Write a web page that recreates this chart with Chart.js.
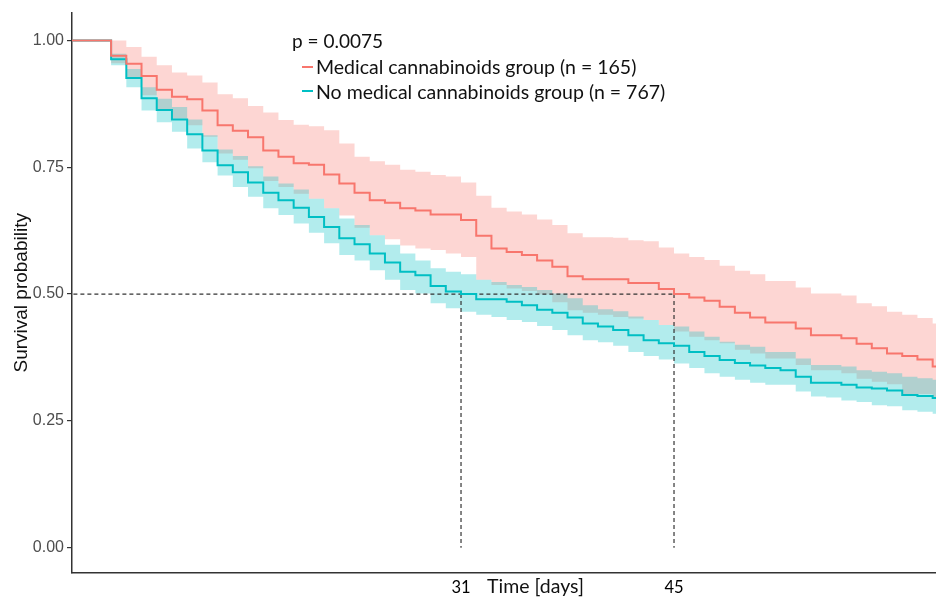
<!DOCTYPE html>
<html>
<head>
<meta charset="utf-8">
<script src="https://cdn.jsdelivr.net/npm/chart.js@4.4.1/dist/chart.umd.min.js"></script>
<style>
    body { margin: 0; background: #fff; }
    #wrap { position: relative; width: 936px; height: 598px; }
    .txt { position: absolute; font-family: Lato, sans-serif; color: #111; white-space: nowrap; line-height: 24px; }
    .key { position: absolute; width: 11px; height: 0; border-top: 2px solid; }
</style>
</head>
<body>
<div id="wrap">
    <canvas id="kmChart" width="936" height="598"></canvas>
    <div class="txt" style="left:292px; top:29px; font-size:19px;">p = 0.0075</div>
    <div class="key" style="left:302px; top:66px; border-color:#F8766D;"></div>
    <div class="txt" style="left:316px; top:55px; font-size:19.5px;">Medical cannabinoids group (n = 165)</div>
    <div class="key" style="left:302px; top:90px; border-color:#00BFC4;"></div>
    <div class="txt" style="left:316px; top:80px; font-size:19.5px;">No medical cannabinoids group (n = 767)</div>
    <div class="txt" style="left:487px; top:574px; font-size:19.5px;">Time [days]</div>
</div>
<script>
// time points (days), value holds until next time
times = [0, 8, 9, 10, 11, 12, 13, 14, 15, 16, 17, 18, 19, 20, 21, 22, 23, 24, 25, 26, 27, 28,
    29, 30, 31, 32, 33, 34, 35, 36, 37, 38, 39, 40, 41, 42, 43, 44, 45, 46, 47, 48, 49, 50,
    51, 52, 53, 54, 55, 56, 57, 58, 59, 60, 61, 62]

// medical cannabinoids group
medSurv = [1, 0.970, 0.954, 0.930, 0.903, 0.889, 0.884, 0.862, 0.833, 0.822, 0.809, 0.783, 0.771,
    0.758, 0.755, 0.736, 0.718, 0.700, 0.685, 0.680, 0.669, 0.665, 0.657, 0.657, 0.646, 0.615,
    0.590, 0.583, 0.577, 0.566, 0.554, 0.535, 0.529, 0.529, 0.529, 0.522, 0.522, 0.510, 0.500,
    0.493, 0.487, 0.475, 0.463, 0.454, 0.444, 0.444, 0.432, 0.419, 0.419, 0.413, 0.402, 0.393,
    0.383, 0.378, 0.371, 0.357]
medUpper = [1, 1.000, 0.987, 0.968, 0.951, 0.937, 0.931, 0.917, 0.894, 0.886, 0.871, 0.858, 0.843,
    0.834, 0.831, 0.823, 0.797, 0.771, 0.762, 0.755, 0.745, 0.741, 0.735, 0.732, 0.720, 0.694,
    0.670, 0.663, 0.657, 0.647, 0.636, 0.620, 0.612, 0.612, 0.611, 0.606, 0.604, 0.592, 0.580,
    0.573, 0.567, 0.556, 0.546, 0.539, 0.526, 0.526, 0.513, 0.501, 0.501, 0.497, 0.482, 0.476,
    0.465, 0.459, 0.453, 0.442]
medLower = [1, 0.955, 0.928, 0.892, 0.865, 0.846, 0.833, 0.810, 0.777, 0.765, 0.748, 0.723, 0.711,
    0.698, 0.688, 0.669, 0.655, 0.631, 0.616, 0.608, 0.596, 0.590, 0.587, 0.580, 0.573, 0.528,
    0.518, 0.511, 0.506, 0.499, 0.484, 0.468, 0.463, 0.459, 0.455, 0.452, 0.449, 0.439, 0.426,
    0.416, 0.409, 0.403, 0.390, 0.383, 0.373, 0.373, 0.360, 0.350, 0.350, 0.344, 0.333, 0.327,
    0.322, 0.303, 0.303, 0.297]

// no medical cannabinoids group
noSurv = [1, 0.963, 0.926, 0.886, 0.863, 0.844, 0.815, 0.783, 0.754, 0.740, 0.720, 0.700, 0.685,
    0.670, 0.652, 0.632, 0.610, 0.598, 0.580, 0.562, 0.544, 0.537, 0.516, 0.505, 0.500, 0.490,
    0.490, 0.485, 0.478, 0.469, 0.463, 0.454, 0.442, 0.436, 0.429, 0.419, 0.409, 0.403, 0.398,
    0.386, 0.378, 0.370, 0.364, 0.359, 0.354, 0.350, 0.337, 0.325, 0.325, 0.321, 0.316, 0.314,
    0.310, 0.301, 0.299, 0.295]
noUpper = [1, 0.974, 0.944, 0.908, 0.885, 0.869, 0.844, 0.813, 0.785, 0.772, 0.752, 0.732, 0.718,
    0.706, 0.688, 0.669, 0.649, 0.636, 0.616, 0.597, 0.580, 0.566, 0.551, 0.544, 0.539, 0.528,
    0.524, 0.518, 0.514, 0.508, 0.501, 0.492, 0.478, 0.470, 0.466, 0.456, 0.449, 0.439, 0.436,
    0.426, 0.416, 0.406, 0.400, 0.396, 0.386, 0.386, 0.373, 0.360, 0.360, 0.357, 0.350, 0.347,
    0.344, 0.337, 0.334, 0.331]
noLower = [1, 0.951, 0.908, 0.862, 0.839, 0.820, 0.787, 0.760, 0.734, 0.711, 0.692, 0.669, 0.656,
    0.639, 0.621, 0.600, 0.577, 0.566, 0.547, 0.528, 0.508, 0.501, 0.482, 0.472, 0.465, 0.459,
    0.455, 0.449, 0.445, 0.437, 0.429, 0.419, 0.409, 0.405, 0.398, 0.386, 0.378, 0.371, 0.363,
    0.354, 0.344, 0.337, 0.331, 0.325, 0.321, 0.321, 0.308, 0.298, 0.296, 0.290, 0.287, 0.281,
    0.279, 0.271, 0.268, 0.264]

// median survival times (the two labelled x ticks)
medianTimes = [31, 45]
medianLevel = 0.5
yTicks = [0, 0.25, 0.5, 0.75, 1]

const xMin = 5.43, xMax = 62.22;

function toPoints(vals) {
    const pts = times.map((t, i) => ({ x: t, y: vals[i] }));
    pts.push({ x: xMax, y: vals[vals.length - 1] }); // hold last step to the edge
    return pts;
}

function stepLine(vals, color) {
    return {
        data: toPoints(vals),
        borderColor: color,
        borderWidth: 2,
        pointRadius: 0,
        stepped: true,
        fill: false
    };
}

function band(vals, fillColor, fillTo) {
    return {
        data: toPoints(vals),
        borderWidth: 0,
        borderColor: 'transparent',
        backgroundColor: fillColor,
        pointRadius: 0,
        stepped: true,
        fill: fillTo
    };
}

function dashed(pts) {
    return {
        data: pts,
        borderColor: '#333',
        borderWidth: 1.2,
        borderDash: [4, 3],
        pointRadius: 0,
        fill: false
    };
}

document.addEventListener('DOMContentLoaded', function () {
    const ctx = document.getElementById('kmChart');

    const datasets = [
        stepLine(medSurv, '#F8766D'),
        stepLine(noSurv, '#00BFC4'),
        dashed([{ x: times[0], y: medianLevel }, { x: Math.max(...medianTimes), y: medianLevel }])
    ];
    medianTimes.forEach(t => {
        datasets.push(dashed([{ x: t, y: medianLevel }, { x: t, y: 0 }]));
    });
    // teal ribbon listed first so it is painted over the red one
    datasets.push(band(noUpper, 'rgba(0, 191, 196, 0.3)', '+1'));
    datasets.push(band(noLower, 'transparent', false));
    datasets.push(band(medUpper, 'rgba(248, 118, 109, 0.3)', '+1'));
    datasets.push(band(medLower, 'transparent', false));

    new Chart(ctx, {
        type: 'line',
        data: { datasets: datasets },
        options: {
            responsive: false,
            animation: false,
            layout: { padding: { top: 12, right: 0, left: 0, bottom: 0 } },
            plugins: {
                legend: { display: false },
                tooltip: { enabled: false }
            },
            scales: {
                x: {
                    type: 'linear',
                    min: xMin,
                    max: xMax,
                    afterBuildTicks: scale => { scale.ticks = medianTimes.map(v => ({ value: v })); },
                    afterFit: scale => { scale.height = 25; },
                    grid: { display: false },
                    border: { color: '#333', width: 1.5 },
                    ticks: {
                        padding: -3,
                        color: '#000',
                        font: { family: 'Lato', size: 16.5 }
                    }
                },
                y: {
                    min: -0.05,
                    max: 1.055,
                    afterBuildTicks: scale => { scale.ticks = yTicks.map(v => ({ value: v })); },
                    afterFit: scale => { scale.width = 72; },
                    grid: { drawOnChartArea: false, drawTicks: true, tickLength: 5, color: '#333', lineWidth: 1.2 },
                    border: { color: '#333', width: 1.5 },
                    ticks: {
                        padding: 3,
                        color: '#4D4D4D',
                        font: { family: 'Liberation Sans', size: 16 },
                        callback: v => v.toFixed(2)
                    },
                    title: {
                        display: true,
                        text: 'Survival probability',
                        color: '#111',
                        padding: { top: 10, bottom: 0 },
                        font: { family: 'Liberation Sans', size: 19 }
                    }
                }
            }
        }
    });
});
</script>
</body>
</html>
